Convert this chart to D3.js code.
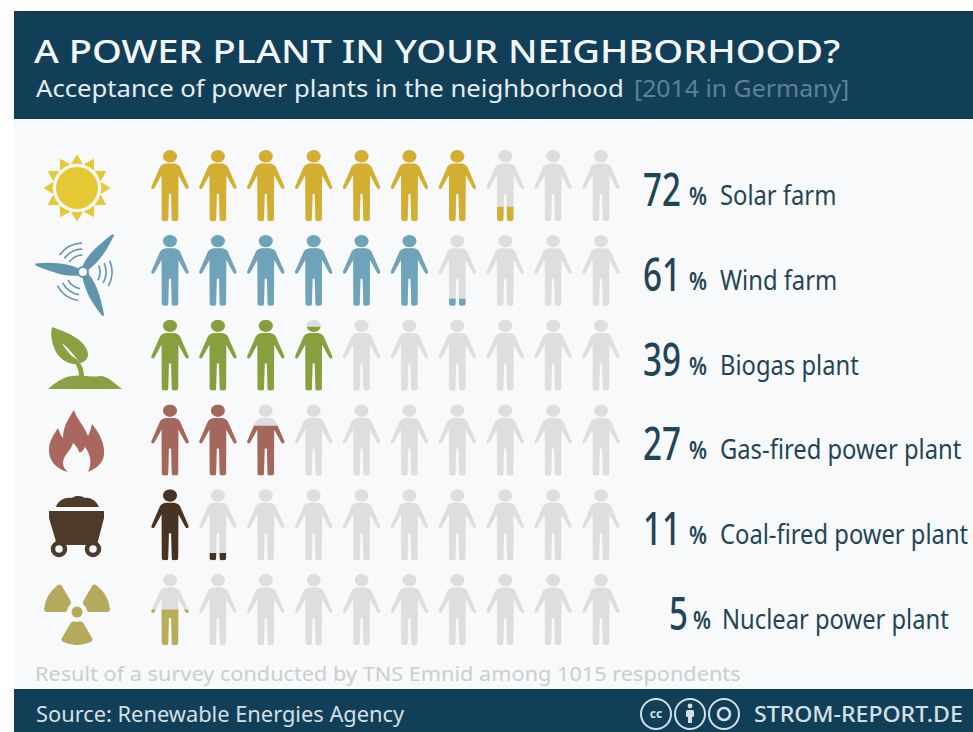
<!DOCTYPE html>
<html>
<head>
<meta charset="utf-8">
<title>A power plant in your neighborhood?</title>
<script src="https://cdn.jsdelivr.net/npm/d3@7/dist/d3.min.js"></script>
<style>
  html, body { margin: 0; padding: 0; background: #fff; }
  svg { display: block; }
  text { font-family: "Noto Sans", "Open Sans", sans-serif; }
</style>
</head>
<body>
<svg id="chart" width="973" height="732"></svg>
<script>
// Survey results, one entry per power plant type
const plants = ["Solar farm", "Wind farm", "Biogas plant", "Gas-fired power plant", "Coal-fired power plant", "Nuclear power plant"];
const acceptance = [72, 61, 39, 27, 11, 5];
const figureColors = ["#d3ae30", "#6ea3ba", "#87a03e", "#a5665c", "#473323", "#b9ad57"];
const iconColors = ["#e5c833", "#5f95ad", "#8aa043", "#a9675d", "#4e3a28", "#b4a95c"];
const figureSlots = d3.range(10);     // each figure stands for 10 %

const W = 973, H = 732;
const BAND = "#123f58", INK = "#1f4557", GREY = "#dedede", PAPER = "#f8f9fa";
const svg = d3.select("#chart");

// Backgrounds
svg.append("rect").attr("x", 14).attr("y", 118).attr("width", W - 14).attr("height", 572).attr("fill", PAPER);
svg.append("rect").attr("x", 14).attr("y", 11).attr("width", W - 14).attr("height", 108).attr("fill", BAND);
svg.append("rect").attr("x", 14).attr("y", 689).attr("width", W - 14).attr("height", 43).attr("fill", BAND);

// Text helper: draws a string stretched horizontally around its anchor point
function label(parent, x, y, str, size, fill, stretch, weight, anchor) {
  return parent.append("text")
    .attr("transform", `translate(${x},${y}) scale(${stretch},1)`)
    .attr("font-size", size)
    .attr("font-weight", weight || 400)
    .attr("text-anchor", anchor || "start")
    .attr("fill", fill)
    .text(str);
}

// Header
label(svg, 34, 63, "A POWER PLANT IN YOUR NEIGHBORHOOD?", 32, "#f2f6f7", 1.19, 500);
label(svg, 36, 97, "Acceptance of power plants in the neighborhood", 24, "#e6edf0", 1.07);
label(svg, 634, 97, "[2014 in Germany]", 24, "#5f8192", 1.035);

// Scales
const col = d3.scalePoint().domain(figureSlots).range([170, 601]);
const row = d3.scalePoint().domain(plants).range([150, 574]);
const FIG_H = 71;
const fillY = d3.scaleLinear().domain([0, 1]).range([FIG_H, 0]);
const fillShare = (value, slot) => Math.max(0, Math.min(1, (value - slot * 10) / 10));

// Pictogram figure: origin at top centre of the head
const bodyPath = "M-4,13.5 L4,13.5 Q8.5,14 10,17 L18.5,36.5 Q19,39 17,39 Q16,39 15,37 L8.4,25 L8.2,69 Q8.2,71 6,71 L3.2,71 Q1.8,71 1.8,69 L1.1,44 L-1.1,44 L-1.8,69 Q-1.8,71 -3.2,71 L-6,71 Q-8.2,71 -8.2,69 L-8.4,25 L-15,37 Q-16,39 -17,39 Q-19,39 -18.5,36.5 L-10,17 Q-8.5,14 -4,13.5 Z";

const defs = svg.append("defs");
const person = defs.append("g").attr("id", "person");
person.append("ellipse").attr("cx", 0).attr("cy", 6.3).attr("rx", 7).attr("ry", 6.2);
person.append("path").attr("d", bodyPath);

// One row of figures per plant type; the coloured copy is clipped from the feet up
const rows = svg.selectAll("g.row").data(plants.map((name, i) => ({ name, i, value: acceptance[i] })))
  .join("g").attr("class", "row").attr("transform", d => `translate(0,${row(d.name)})`);

rows.each(function (d) {
  const g = d3.select(this);
  figureSlots.forEach(slot => {
    const share = fillShare(d.value, slot);
    const f = g.append("g").attr("transform", `translate(${col(slot)},0)`);
    f.append("use").attr("href", "#person").attr("fill", GREY);
    if (share > 0) {
      const id = `clip-${d.i}-${slot}`;
      defs.append("clipPath").attr("id", id).append("rect")
        .attr("x", -25).attr("width", 50)
        .attr("y", fillY(share)).attr("height", FIG_H - fillY(share));
      f.append("g").attr("clip-path", `url(#${id})`)
        .append("use").attr("href", "#person").attr("fill", figureColors[d.i]);
    }
  });

  // Value and plant name
  const single = d.value < 10;
  label(g, single ? 688 : 681, 56, d.value, 46, INK, 0.72, 500, "end");
  label(g, single ? 693 : 689, 55, "%", 25, INK, 0.82, 600);
  label(g, single ? 722 : 720, 55, d.name, 27, INK, 0.88);
});

// Row icons
const rad = Math.PI / 180;
const icons = svg.append("g").attr("class", "icons");

// Sun
const sun = icons.append("g").attr("transform", "translate(77,188)").attr("fill", iconColors[0]);
sun.append("circle").attr("r", 21);
d3.range(12).forEach(k => sun.append("path")
  .attr("d", "M-5.5,-24 L0,-33 L5.5,-24 Q0,-25.5 -5.5,-24 Z")
  .attr("stroke", iconColors[0]).attr("stroke-width", 0.8).attr("stroke-linejoin", "round")
  .attr("transform", `rotate(${k * 30})`));

// Wind turbine with sound waves between its blades
const wind = icons.append("g").attr("transform", "translate(83,272)");
const blade = "M-3,-3 C-4,-14 -2,-24 9,-47 L11,-47 C12,-26 8,-12 3,-3 Z";
[27, 143, 267].forEach(a => wind.append("path").attr("d", blade)
  .attr("fill", iconColors[1]).attr("transform", `rotate(${a})`));
wind.append("circle").attr("r", 5).attr("fill", PAPER).attr("stroke", iconColors[1]).attr("stroke-width", 2);
[-28, 93, 216].forEach(mid => [17, 23, 29].forEach(r => wind.append("path")
  .attr("d", d3.arc().innerRadius(r - 0.8).outerRadius(r + 0.8)
    .startAngle((mid - 26) * rad).endAngle((mid + 26) * rad)())
  .attr("fill", iconColors[1])));

// Sprout
const sprout = icons.append("g").attr("fill", iconColors[2]);
sprout.append("path").attr("d", "M48,389 C57,381 64,377 72,376 C82,374 92,378 100,376 C108,376 114,383 122,389 Z");
sprout.append("path").attr("d", "M52,327 C66,332 82,338 87,350 C90,357 86,362 80,363 C76,358 70,349 62,343 C66,351 74,358 79,364 C71,365 61,361 56,352 C52,344 50,335 52,327 Z");
sprout.append("path").attr("d", "M72,356 C81,361 84,368 84,377 L79,377 C79,369 76,363 70,358 Z");

// Flame
icons.append("path").attr("fill", iconColors[3])
  .attr("d", "M74,410 C77,420 84,425 88,436 C90,432 91,428 92,424 C100,434 105,444 104,455 C103,463 97,468 88,472 C92,464 91,455 85,447 C83,451 81,453 79,452 C78,448 76,446 73,443 C71,451 63,455 63,463 C63,466 65,470 68,472 C56,469 49,461 49,450 C49,441 53,436 58,428 C60,433 61,436 63,438 C63,427 68,419 74,410 Z");

// Coal cart
const cart = icons.append("g").attr("fill", iconColors[4]);
cart.append("path").attr("d", "M56,507 C58,500 66,497 72,498 C76,495 82,496 85,498 C91,497 97,502 99,507 Z");
cart.append("path").attr("d", "M49,511 L104,511 L104,518 L97,545 L57,545 L49,518 Z");
[59, 93].forEach(cx => cart.append("circle").attr("cx", cx).attr("cy", 549).attr("r", 6)
  .attr("fill", PAPER).attr("stroke", iconColors[4]).attr("stroke-width", 4.5));

// Radiation sign
const hazard = icons.append("g").attr("transform", "translate(77,612)").attr("fill", iconColors[5]);
hazard.append("circle").attr("r", 5.5);
[-60, 60, 180].forEach(mid => hazard.append("path").attr("d", d3.arc()
  .innerRadius(10).outerRadius(33).cornerRadius(3)
  .startAngle((mid - 30) * rad).endAngle((mid + 30) * rad)()));

// Survey note
label(svg, 35, 681, "Result of a survey conducted by TNS Emnid among 1015 respondents", 20, "#cbced0", 1.085);

// Footer
label(svg, 36, 722, "Source: Renewable Energies Agency", 21, "#d4e0e5", 1.04);
label(svg, 754, 722, "STROM-REPORT.DE", 21, "#d4e0e5", 1.1, 500);

const badge = svg.append("g").attr("fill", "none").attr("stroke", "#d4e0e5");
[656, 690, 724].forEach(cx => badge.append("circle").attr("cx", cx).attr("cy", 714).attr("r", 15).attr("stroke-width", 2));
svg.append("text").attr("x", 656).attr("y", 718).attr("text-anchor", "middle")
  .attr("font-size", 12).attr("font-weight", 700).attr("fill", "#d4e0e5").text("cc");
const by = svg.append("g").attr("fill", "#d4e0e5");
by.append("circle").attr("cx", 690).attr("cy", 706).attr("r", 2.4);
by.append("rect").attr("x", 686).attr("y", 710).attr("width", 8).attr("height", 7).attr("rx", 1.5);
by.append("rect").attr("x", 688).attr("y", 716).attr("width", 4).attr("height", 7);
badge.append("circle").attr("cx", 724).attr("cy", 714).attr("r", 6).attr("stroke-width", 2.6);
</script>
</body>
</html>
